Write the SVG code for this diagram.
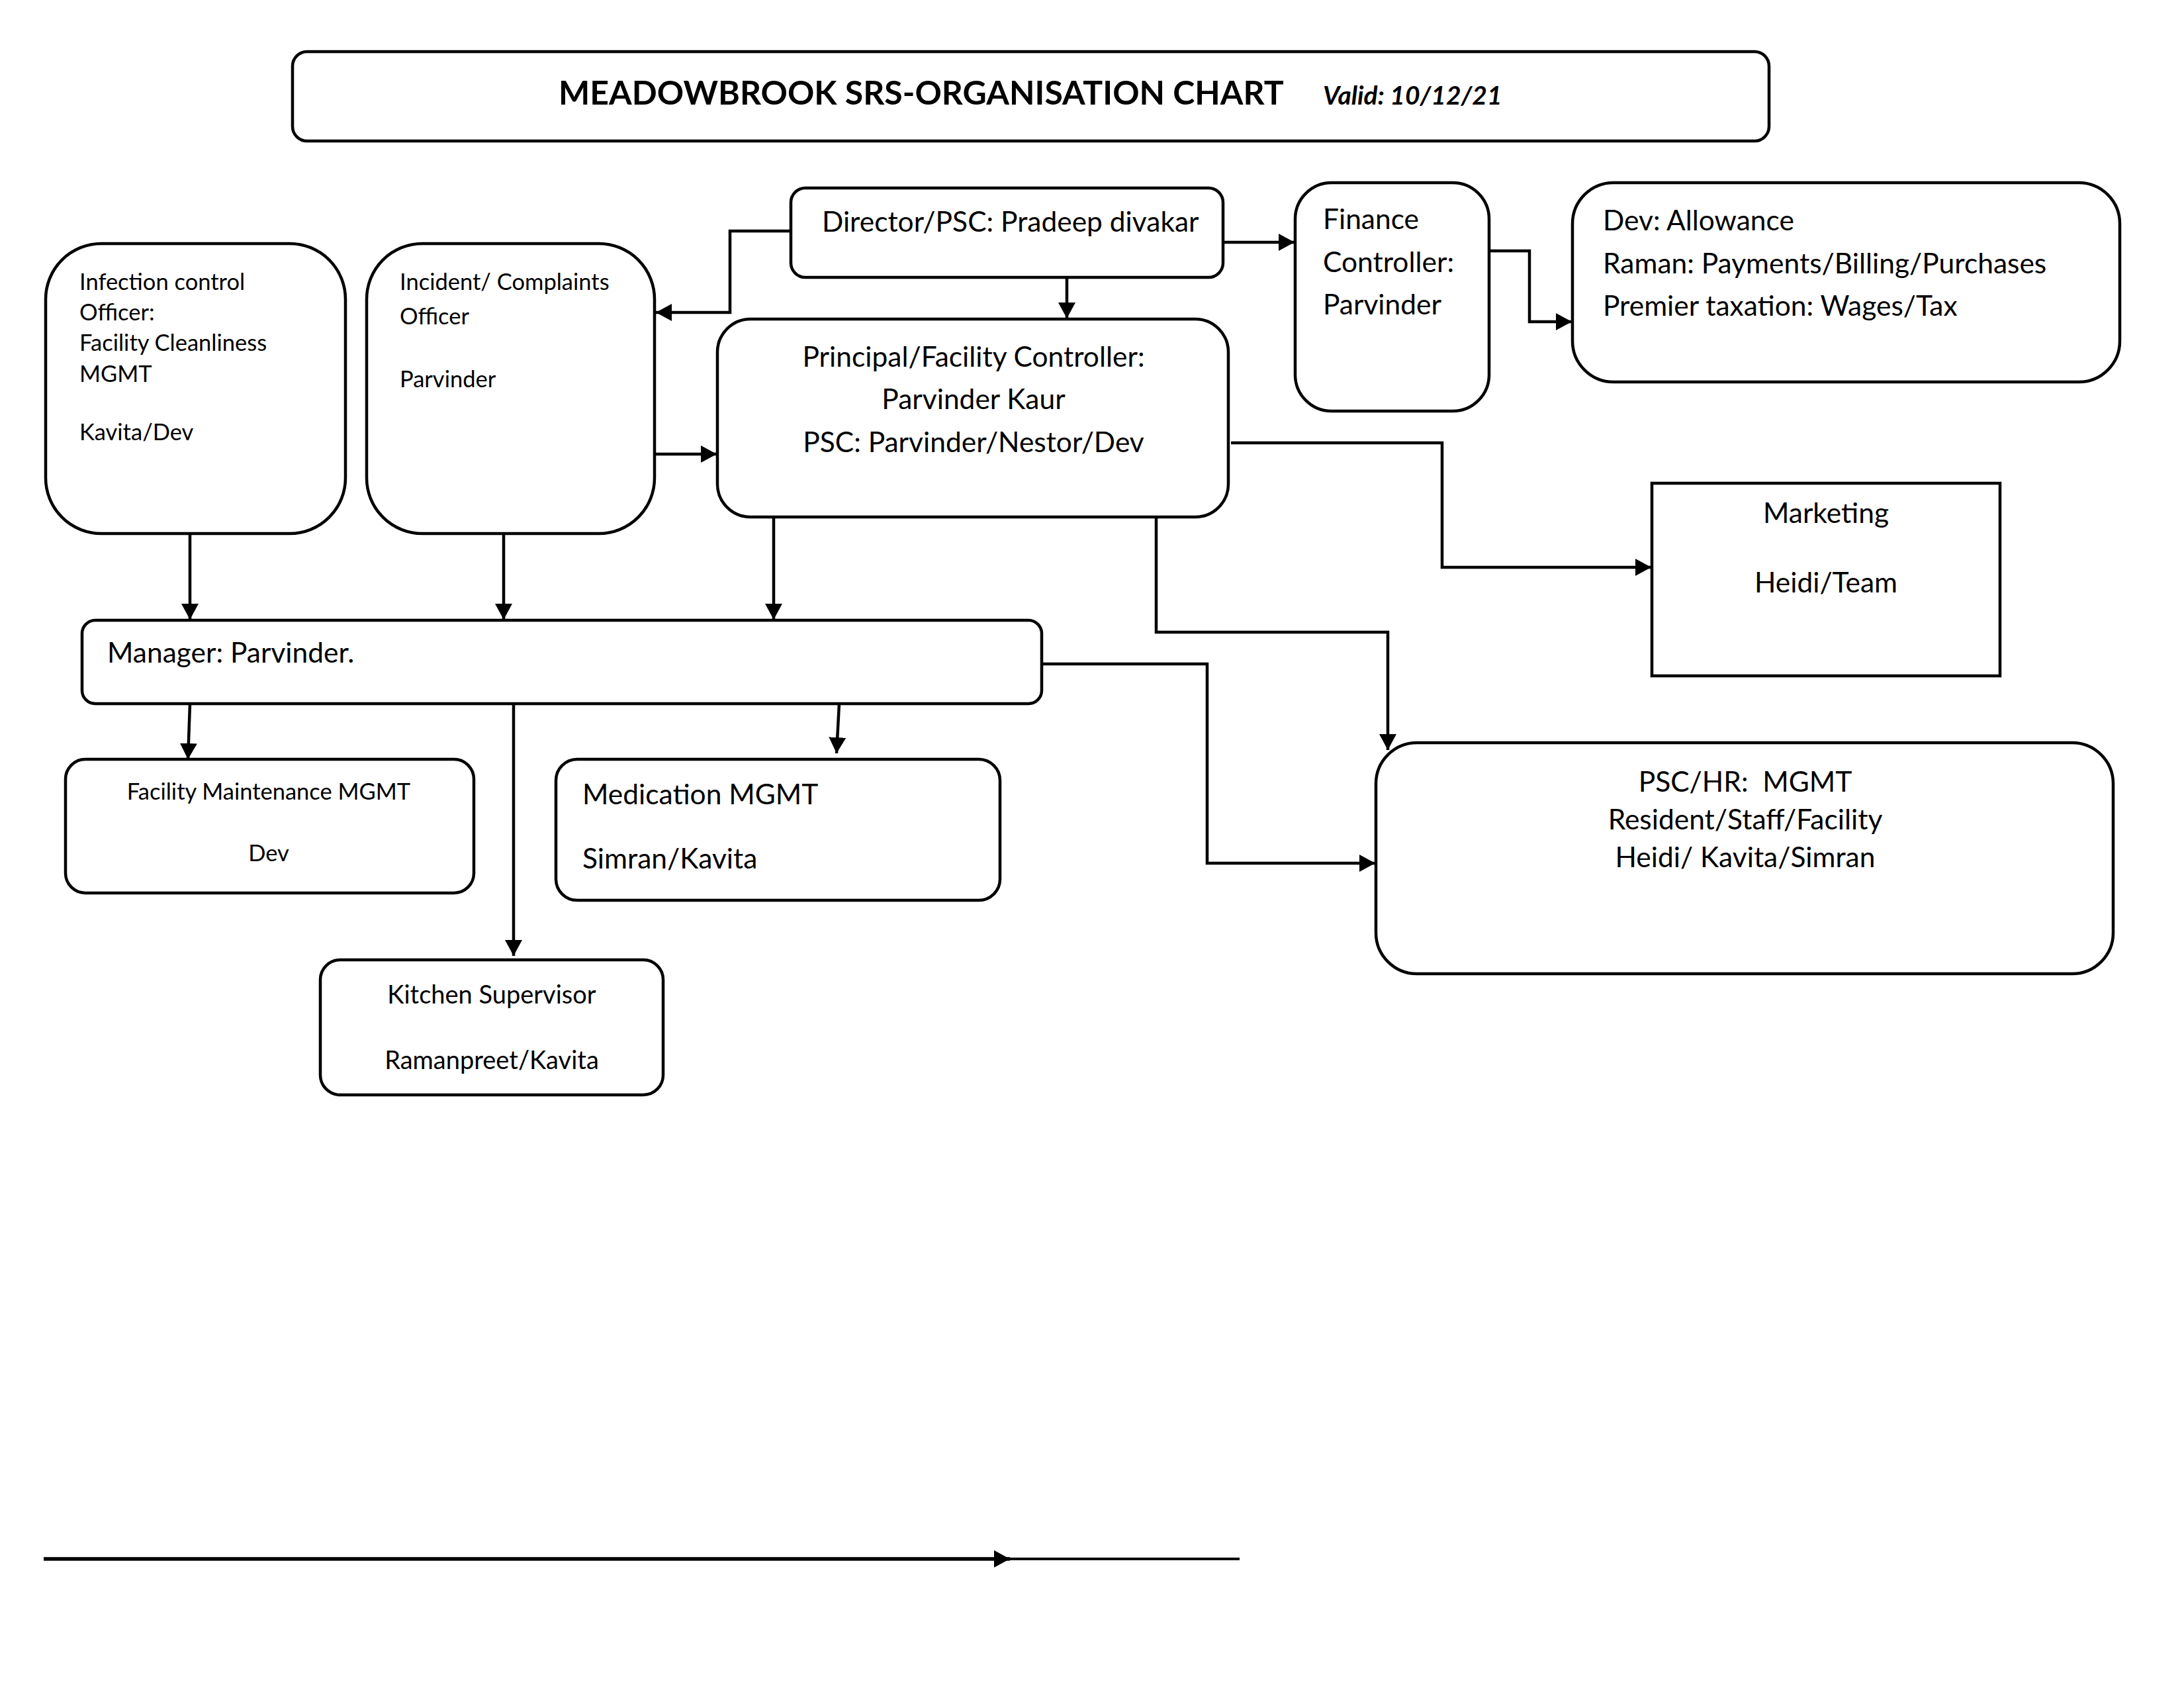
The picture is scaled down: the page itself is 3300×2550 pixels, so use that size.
<svg xmlns="http://www.w3.org/2000/svg" width="3300" height="2550" viewBox="0 0 3300 2550">
<style>
.box{fill:#fff;stroke:#000;stroke-width:4.5}
.t{font-family:Lato,"Liberation Sans",sans-serif;font-size:42.5px;fill:#000}
.s{font-family:Lato,"Liberation Sans",sans-serif;font-size:34.5px;fill:#000}
.k{font-family:Lato,"Liberation Sans",sans-serif;font-size:38px;fill:#000}
.c{fill:none;stroke:#000;stroke-width:4.5}
.ttl{font-family:Lato,"Liberation Sans",sans-serif;font-weight:bold;font-size:50px}
.val{font-family:Lato,"Liberation Sans",sans-serif;font-weight:bold;font-style:italic;font-size:39px}
</style>
<defs>
<marker id="a" markerUnits="userSpaceOnUse" markerWidth="26" markerHeight="28" refX="24" refY="13" orient="auto">
<path d="M0,0 L24,13 L0,26 Z" fill="#000"/>
</marker>
</defs>
<rect width="3300" height="2550" fill="#fff"/>
<g id="title">
<rect class="box" x="442" y="78" width="2231" height="135" rx="22"/>
<text class="ttl" x="844" y="158">MEADOWBROOK SRS-ORGANISATION CHART</text>
<text class="val" x="1999" y="158">Valid: 10/12/21</text>
</g>
<g id="connectors">
<polyline class="c" points="1218,349 1103,349 1103,472 991,472" marker-end="url(#a)"/>
<line class="c" x1="1612" y1="419" x2="1612" y2="481" marker-end="url(#a)"/>
<line class="c" x1="1848" y1="366" x2="1956" y2="366" marker-end="url(#a)"/>
<polyline class="c" points="2250,379 2311,379 2311,486 2375,486" marker-end="url(#a)"/>
<line class="c" x1="989" y1="686" x2="1083" y2="686" marker-end="url(#a)"/>
<polyline class="c" points="1860,669 2179,669 2179,857 2495,857" marker-end="url(#a)"/>
<polyline class="c" points="1747,777 1747,955 2097,955 2097,1133" marker-end="url(#a)"/>
<polyline class="c" points="1574,1003 1824,1003 1824,1304 2078,1304" marker-end="url(#a)"/>
<line class="c" x1="287" y1="806" x2="287" y2="936" marker-end="url(#a)"/>
<line class="c" x1="761" y1="806" x2="761" y2="936" marker-end="url(#a)"/>
<line class="c" x1="1169" y1="781" x2="1169" y2="936" marker-end="url(#a)"/>
<line class="c" x1="287" y1="1063" x2="284" y2="1147" marker-end="url(#a)"/>
<line class="c" x1="1268" y1="1063" x2="1264" y2="1138" marker-end="url(#a)"/>
<line class="c" x1="776" y1="1063" x2="776" y2="1444" marker-end="url(#a)"/>
<line x1="66" y1="2355" x2="1526" y2="2355" stroke="#000" stroke-width="5.5" marker-end="url(#a)"/>
<line x1="1515" y1="2355" x2="1873" y2="2355" stroke="#000" stroke-width="4"/>
</g>
<g id="director">
<rect class="box" x="1195" y="284" width="653" height="135" rx="22"/>
<text class="t" x="1242" y="350">Director/PSC: Pradeep divakar</text>
</g>
<g id="principal">
<rect class="box" x="1084" y="482" width="772" height="299" rx="50"/>
<text class="t" text-anchor="middle" x="1471" y="554">Principal/Facility Controller:</text>
<text class="t" text-anchor="middle" x="1471" y="618">Parvinder Kaur</text>
<text class="t" text-anchor="middle" x="1471" y="683">PSC: Parvinder/Nestor/Dev</text>
</g>
<g id="infection">
<rect class="box" x="69" y="368" width="453" height="438" rx="84"/>
<text class="s" x="120" y="438">Infection control</text>
<text class="s" x="120" y="484">Officer:</text>
<text class="s" x="120" y="530">Facility Cleanliness</text>
<text class="s" x="120" y="577">MGMT</text>
<text class="s" x="120" y="665">Kavita/Dev</text>
</g>
<g id="incident">
<rect class="box" x="554" y="368" width="435" height="438" rx="84"/>
<text class="s" x="604" y="438">Incident/ Complaints</text>
<text class="s" x="604" y="490">Officer</text>
<text class="s" x="604" y="585">Parvinder</text>
</g>
<g id="finance">
<rect class="box" x="1957" y="276" width="293" height="345" rx="55"/>
<text class="t" x="1999" y="346">Finance</text>
<text class="t" x="1999" y="411">Controller:</text>
<text class="t" x="1999" y="475">Parvinder</text>
</g>
<g id="finance-team">
<rect class="box" x="2376" y="276" width="827" height="301" rx="62"/>
<text class="t" x="2422" y="348">Dev: Allowance</text>
<text class="t" x="2422" y="413">Raman: Payments/Billing/Purchases</text>
<text class="t" x="2422" y="477">Premier taxation: Wages/Tax</text>
</g>
<g id="marketing">
<rect class="box" x="2496" y="730" width="526" height="291"/>
<text class="t" text-anchor="middle" x="2759" y="790">Marketing</text>
<text class="t" text-anchor="middle" x="2759" y="895">Heidi/Team</text>
</g>
<g id="manager">
<rect class="box" x="124" y="937" width="1450" height="126" rx="20"/>
<text class="t" x="162" y="1001">Manager: Parvinder.</text>
</g>
<g id="facility-maintenance">
<rect class="box" x="99" y="1147" width="617" height="202" rx="30"/>
<text class="s" text-anchor="middle" x="406" y="1208">Facility Maintenance MGMT</text>
<text class="s" text-anchor="middle" x="406" y="1301">Dev</text>
</g>
<g id="medication">
<rect class="box" x="840" y="1147" width="671" height="213" rx="32"/>
<text class="t" x="880" y="1215">Medication MGMT</text>
<text class="t" x="880" y="1312">Simran/Kavita</text>
</g>
<g id="kitchen">
<rect class="box" x="484" y="1450" width="518" height="204" rx="30"/>
<text class="k" text-anchor="middle" x="743" y="1516">Kitchen Supervisor</text>
<text class="k" text-anchor="middle" x="743" y="1615">Ramanpreet/Kavita</text>
</g>
<g id="psc-hr">
<rect class="box" x="2079" y="1122" width="1114" height="349" rx="62"/>
<text class="t" text-anchor="middle" x="2637" y="1196" xml:space="preserve">PSC/HR:  MGMT</text>
<text class="t" text-anchor="middle" x="2637" y="1253">Resident/Staff/Facility</text>
<text class="t" text-anchor="middle" x="2637" y="1310">Heidi/ Kavita/Simran</text>
</g>
</svg>
